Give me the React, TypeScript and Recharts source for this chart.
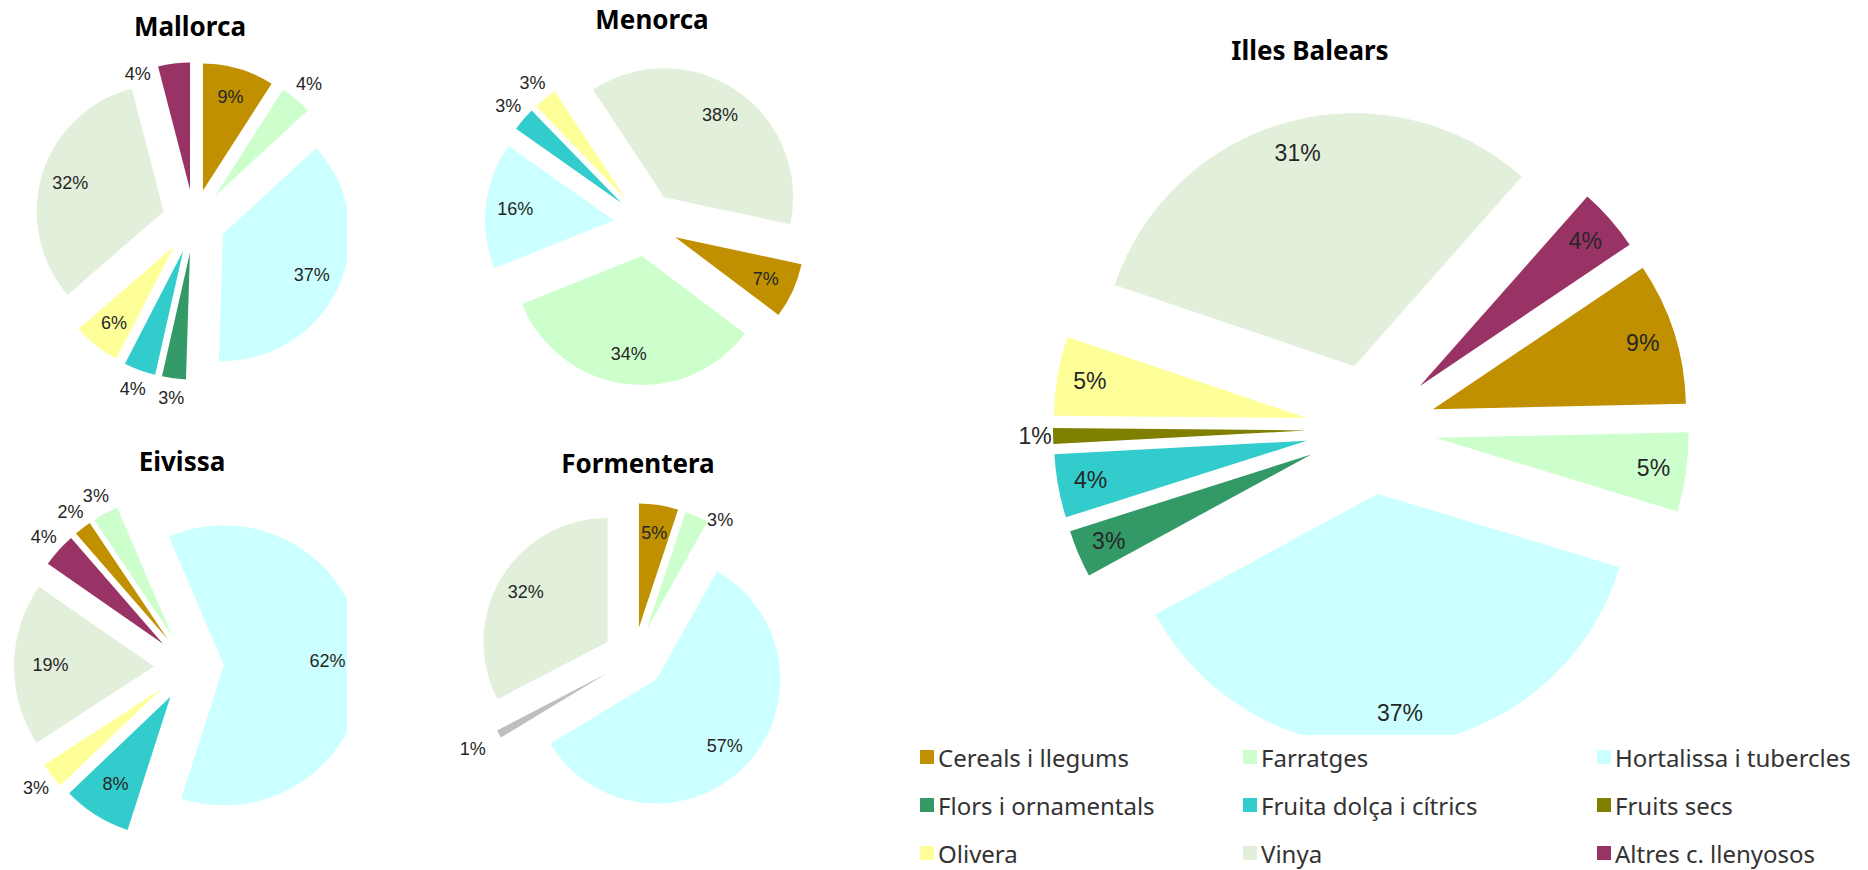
import React from "react";
import { PieChart, Pie, Cell, Sector } from "recharts";

// categories in drawing order (clockwise)
const categories = [
  "Cereals i llegums",
  "Farratges",
  "Hortalissa i tubercles",
  "Flors i ornamentals",
  "Fruita dolça i cítrics",
  "Fruits secs",
  "Olivera",
  "Vinya",
  "Altres c. llenyosos",
];
const colors = ["#C09000", "#CCFFCC", "#CCFFFF", "#339966", "#33CCCC", "#808000", "#FFFF99", "#E2EFDA", "#993366"];

// % per island, same order as categories
const mallorca = [9, 4, 37, 3, 4, 0, 6, 32, 4];
const menorca = [7, 34, 16, 0, 3, 0, 3, 38, 0];
const eivissa = [2, 3, 62, 0, 8, 0, 3, 19, 4];
const formentera = [5, 3, 57, 0, 0, 1, 0, 32, 0];
const illesBalears = [9, 5, 37, 3, 4, 1, 5, 31, 4];
const formenteraFill: Record<string, string> = { "Fruits secs": "#BFBFBF" };

const RAD = Math.PI / 180;
const LABEL_FONT = "'Liberation Sans', Arial, sans-serif";
const TITLE_FONT = "'Noto Sans', 'Open Sans', sans-serif";

type Nudge = Record<string, [number, number]>; // [angle deg, radius px]

function rows(values: number[], fillOverride: Record<string, string> = {}) {
  return categories
    .map((name, i) => ({ name, value: values[i], fill: fillOverride[name] ?? colors[i] }))
    .filter((r) => r.value > 0);
}

function explodedShape(explode: number) {
  return (props: any) => {
    const { cx, cy, midAngle, outerRadius } = props;
    const d = outerRadius * explode;
    return (
      <Sector
        {...props}
        cx={cx + d * Math.cos(-midAngle * RAD)}
        cy={cy + d * Math.sin(-midAngle * RAD)}
        stroke="none"
      />
    );
  };
}

function makeLabel(explode: number, minInside: number, inR: number, outGap: number, fontSize: number, nudge: Nudge) {
  return (props: any) => {
    const { cx, cy, midAngle, outerRadius, value, name } = props;
    const d = outerRadius * explode;
    const sx = cx + d * Math.cos(-midAngle * RAD);
    const sy = cy + d * Math.sin(-midAngle * RAD);
    const [da, dr] = nudge[name] ?? [0, 0];
    const inside = value >= minInside;
    const r = (inside ? outerRadius * inR : outerRadius + outGap) + dr;
    const a = midAngle - da;
    return (
      <text
        x={sx + r * Math.cos(-a * RAD)}
        y={sy + r * Math.sin(-a * RAD)}
        textAnchor="middle"
        dominantBaseline="central"
        fill="#262626"
        fontSize={fontSize}
        fontFamily={LABEL_FONT}
      >
        {value}%
      </text>
    );
  };
}

function IslandPie({
  title, data, left, top, width, height, cx, cy, r, start, titleX, titleY,
  explode = 0.25, minInside = 5, inR = 0.77, outGap = 20, fontSize = 18, nudge = {},
}: {
  title: string; data: { name: string; value: number; fill: string }[];
  left: number; top: number; width: number; height: number;
  cx: number; cy: number; r: number; start: number; titleX: number; titleY: number;
  explode?: number; minInside?: number; inR?: number; outGap?: number; fontSize?: number; nudge?: Nudge;
}) {
  const shape = explodedShape(explode);
  return (
    <>
      <div style={{ position: "absolute", left, top, width, height, overflow: "hidden" }}>
        <PieChart width={width} height={height}>
          <Pie
            data={data}
            dataKey="value"
            nameKey="name"
            cx={cx}
            cy={cy}
            outerRadius={r}
            startAngle={90 - start}
            endAngle={90 - start - 360}
            stroke="none"
            shape={shape}
            activeShape={shape}
            label={makeLabel(explode, minInside, inR, outGap, fontSize, nudge)}
            labelLine={false}
            isAnimationActive={false}
          >
            {data.map((d) => (
              <Cell key={d.name} fill={d.fill} />
            ))}
          </Pie>
        </PieChart>
      </div>
      <div
        style={{
          position: "absolute", left: titleX - 150, top: titleY - 18, width: 300, textAlign: "center",
          fontFamily: TITLE_FONT, fontWeight: 700, fontSize: 26, lineHeight: "36px", color: "#000",
        }}
      >
        {title}
      </div>
    </>
  );
}

export default function App() {
  const legendCols = [323, 354, 260];
  return (
    <div style={{ position: "absolute", left: 0, top: 0, width: 1868, height: 870, background: "#fff" }}>
      <IslandPie title="Mallorca" data={rows(mallorca)} left={0} top={0} width={347} height={430}
        cx={189} cy={216} r={127} start={0} titleX={190} titleY={26}
        nudge={{ "Altres c. llenyosos": [-17, -20] }} />
      <IslandPie title="Menorca" data={rows(menorca)} left={400} top={0} width={440} height={430}
        cx={241} cy={219} r={129} start={102} titleX={652} titleY={19} />
      <IslandPie title="Eivissa" data={rows(eivissa)} left={0} top={435} width={347} height={435}
        cx={184} cy={227} r={140} start={-41} titleX={182} titleY={461} inR={0.74} />
      <IslandPie title="Formentera" data={rows(formentera, formenteraFill)} left={400} top={435} width={440} height={435}
        cx={229} cy={218} r={124} start={0} titleX={638} titleY={463}
        nudge={{ Farratges: [10, -12], "Fruits secs": [0, 10] }} />
      <IslandPie title="Illes Balears" data={rows(illesBalears)} left={880} top={0} width={988} height={735}
        cx={486} cy={424} r={253} start={56} titleX={1310} titleY={50}
        explode={0.257} minInside={2} inR={0.87} outGap={18} fontSize={23} />
      <div
        style={{
          position: "absolute", left: 920, top: 733, display: "grid",
          gridTemplateColumns: legendCols.map((w) => `${w}px`).join(" "), gridAutoRows: "48px",
          fontFamily: TITLE_FONT, fontSize: 24, color: "#333",
        }}
      >
        {categories.map((c, i) => (
          <div key={c} style={{ display: "flex", alignItems: "center", whiteSpace: "nowrap" }}>
            <span style={{ width: 14, height: 14, background: colors[i], marginRight: 4, flex: "none" }} />
            <span>{c}</span>
          </div>
        ))}
      </div>
    </div>
  );
}
